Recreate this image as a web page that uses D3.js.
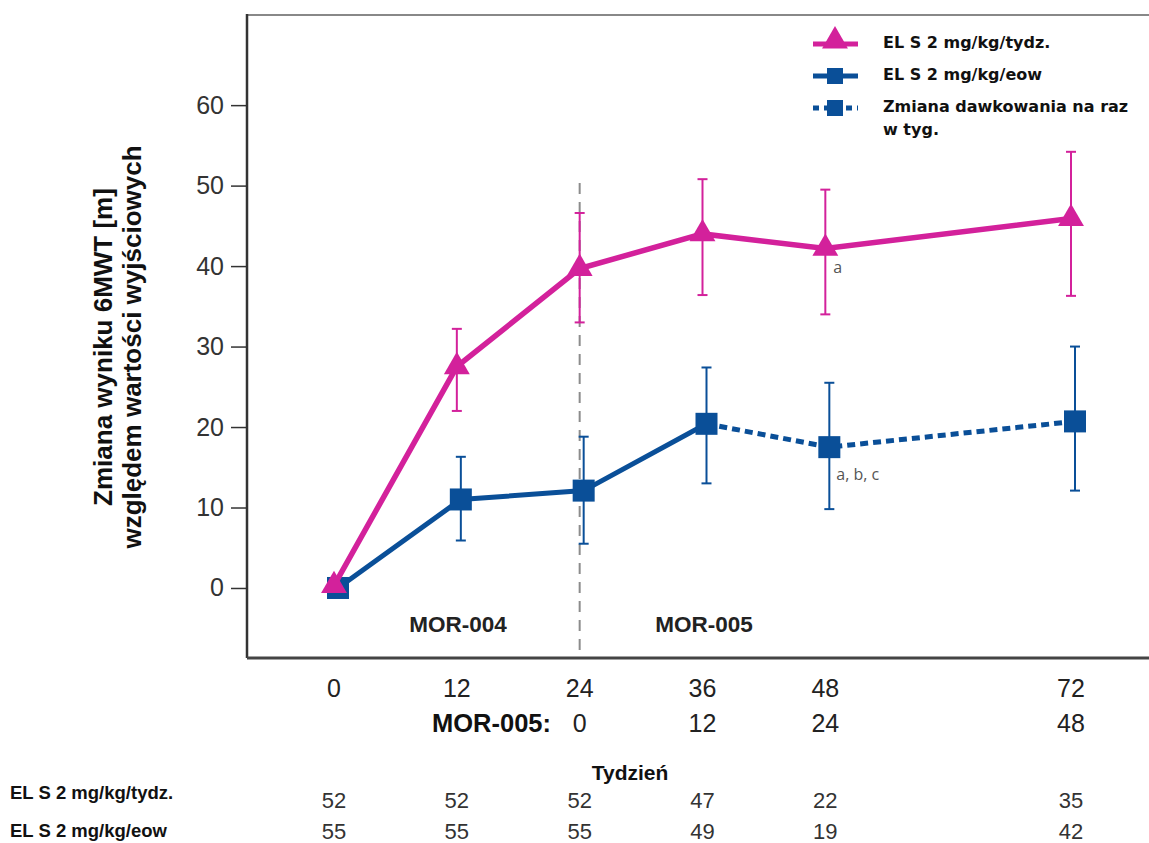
<!DOCTYPE html>
<html>
<head>
<meta charset="utf-8">
<script src="https://cdn.jsdelivr.net/npm/d3@7"></script>
<style>
  body { margin: 0; background: #fff; }
  svg { font-family: "Liberation Sans", Arial, sans-serif; }
</style>
</head>
<body>
<svg width="1149" height="843"></svg>
<script>
// weeks in MOR-004 / MOR-005 timeline
const weeks = [0, 12, 24, 36, 48, 72];
const mor005Weeks = ['', '', '0', '12', '24', '48'];

const weeklyMean = [0.3, 27.5, 39.7, 44.0, 42.2, 45.9];
const weeklyLow = [null, 22.0, 33.0, 36.4, 34.0, 36.3];
const weeklyHigh = [null, 32.2, 46.6, 50.8, 49.5, 54.2];

const eowMean = [0, 11.0, 12.1, 20.4, 17.5, 20.7];
const eowLow = [null, 5.9, 5.5, 13.0, 9.8, 12.1];
const eowHigh = [null, 16.3, 18.8, 27.4, 25.5, 30.0];

const nWeekly = [52, 52, 52, 47, 22, 35];
const nEow = [55, 55, 55, 49, 19, 42];

const yTicks = [0, 10, 20, 30, 40, 50, 60];

const pink = '#d3219b';
const blue = '#0a4f98';

const svg = d3.select('svg');
const plotL = 247, plotR = 1149, plotT = 15, plotB = 658;

const x = d3.scaleLinear().domain([0, 72]).range([334, 1071]);
const y = d3.scaleLinear().domain([-8.7, 71.2]).range([plotB, plotT]);

// frame
svg.append('line').attr('x1', plotL).attr('x2', plotR).attr('y1', plotT).attr('y2', plotT)
    .attr('stroke', '#888').attr('stroke-width', 2);

const yAxis = svg.append('g').attr('transform', `translate(${plotL},0)`)
    .call(d3.axisLeft(y).tickValues(yTicks).tickSize(16).tickPadding(7));
yAxis.select('.domain').remove();
yAxis.selectAll('line').attr('stroke', '#333').attr('stroke-width', 1.5);
yAxis.selectAll('text').attr('font-size', 25).attr('fill', '#333')
    .attr('font-family', '"Liberation Sans", Arial, sans-serif');

svg.append('line').attr('x1', plotL).attr('x2', plotL).attr('y1', plotT - 1).attr('y2', plotB)
    .attr('stroke', '#333').attr('stroke-width', 2.5);
svg.append('line').attr('x1', plotL).attr('x2', plotR).attr('y1', plotB).attr('y2', plotB)
    .attr('stroke', '#444').attr('stroke-width', 3);

// x tick labels
svg.selectAll('.xt').data(weeks).enter().append('text')
    .attr('x', d => x(d)).attr('y', 697).attr('text-anchor', 'middle')
    .attr('font-size', 25).attr('fill', '#222').text(d => d);
svg.selectAll('.xt2').data(weeks).enter().append('text')
    .attr('x', d => x(d)).attr('y', 732).attr('text-anchor', 'middle')
    .attr('font-size', 25).attr('fill', '#222').text((d, i) => mor005Weeks[i]);
svg.append('text').attr('x', 551).attr('y', 732).attr('text-anchor', 'end')
    .attr('font-size', 25.5).attr('font-weight', 'bold').attr('fill', '#111').text('MOR-005:');

// y title
const yt = svg.append('text').attr('transform', 'translate(112,347) rotate(-90)')
    .attr('text-anchor', 'middle').attr('font-size', 26).attr('font-weight', 'bold').attr('fill', '#111');
yt.append('tspan').attr('x', 0).attr('dy', 0).text('Zmiana wyniku 6MWT [m]');
yt.append('tspan').attr('x', 0).attr('dy', 29).text('względem wartości wyjściowych');

// study divider
svg.append('line').attr('x1', x(24)).attr('x2', x(24)).attr('y1', 183).attr('y2', plotB)
    .attr('stroke', '#8c8c8c').attr('stroke-width', 2).attr('stroke-dasharray', '11,8');
svg.append('text').attr('x', 458).attr('y', 632).attr('text-anchor', 'middle')
    .attr('font-size', 22.5).attr('font-weight', 'bold').attr('fill', '#222').text('MOR-004');
svg.append('text').attr('x', 704).attr('y', 632).attr('text-anchor', 'middle')
    .attr('font-size', 22.5).attr('font-weight', 'bold').attr('fill', '#222').text('MOR-005');

// error bars
function errorBars(mean, low, high, color, dx) {
    const g = svg.append('g').attr('stroke', color).attr('stroke-width', 2);
    weeks.forEach((w, i) => {
        if (low[i] == null) return;
        const cx = x(w) + dx;
        g.append('line').attr('x1', cx).attr('x2', cx).attr('y1', y(low[i])).attr('y2', y(high[i]));
        g.append('line').attr('x1', cx - 5).attr('x2', cx + 5).attr('y1', y(low[i])).attr('y2', y(low[i]));
        g.append('line').attr('x1', cx - 5).attr('x2', cx + 5).attr('y1', y(high[i])).attr('y2', y(high[i]));
    });
}
errorBars(weeklyMean, weeklyLow, weeklyHigh, pink, 0);
errorBars(eowMean, eowLow, eowHigh, blue, 4);

const blueDx = 4;
const line = d3.line().x(d => d[0]).y(d => d[1]);
const eowPts = weeks.map((w, i) => [x(w) + blueDx, y(eowMean[i])]);
svg.append('path').attr('d', line(eowPts.slice(0, 4))).attr('fill', 'none')
    .attr('stroke', blue).attr('stroke-width', 5);
svg.append('path').attr('d', line(eowPts.slice(3))).attr('fill', 'none')
    .attr('stroke', blue).attr('stroke-width', 5).attr('stroke-dasharray', '8,5');
svg.selectAll('.sq').data(eowPts).enter().append('rect')
    .attr('x', d => d[0] - 11).attr('y', d => d[1] - 11).attr('width', 22).attr('height', 22)
    .attr('fill', blue);

const wkPts = weeks.map((w, i) => [x(w), y(weeklyMean[i])]);
svg.append('path').attr('d', line(wkPts)).attr('fill', 'none')
    .attr('stroke', pink).attr('stroke-width', 5.5);
const tri = d3.symbol().type(d3.symbolTriangle).size(290);
svg.selectAll('.tri').data(wkPts).enter().append('path')
    .attr('d', tri).attr('transform', d => `translate(${d[0]},${d[1]})`).attr('fill', pink);

// footnote letters
svg.append('text').attr('x', x(48) + 8).attr('y', y(weeklyMean[4]) + 25)
    .attr('font-size', 16).attr('fill', '#555').attr('font-family', '"Open Sans", sans-serif').text('a');
svg.append('text').attr('x', x(48) + 11).attr('y', y(eowMean[4]) + 33)
    .attr('font-size', 16).attr('fill', '#555').attr('font-family', '"Open Sans", sans-serif').text('a, b, c');

// legend
const legend = [
    {label: ['EL S 2 mg/kg/tydz.'], color: pink, shape: 'tri', dash: null, y: 44},
    {label: ['EL S 2 mg/kg/eow'], color: blue, shape: 'sq', dash: null, y: 76},
    {label: ['Zmiana dawkowania na raz', 'w tyg.'], color: blue, shape: 'sq', dash: '6,5', y: 108}
];
legend.forEach(d => {
    const g = svg.append('g');
    g.append('line').attr('x1', 813).attr('x2', 858).attr('y1', d.y).attr('y2', d.y)
        .attr('stroke', d.color).attr('stroke-width', 5).attr('stroke-dasharray', d.dash);
    if (d.shape === 'tri') {
        g.append('path').attr('d', tri).attr('transform', `translate(835,${d.y - 3})`).attr('fill', d.color);
    } else {
        g.append('rect').attr('x', 827).attr('y', d.y - 8).attr('width', 16).attr('height', 16).attr('fill', d.color);
    }
    d.label.forEach((t, j) => {
        g.append('text').attr('x', 883).attr('y', d.y - 2 + j * 23).attr('dy', '0.35em')
            .attr('font-family', '"DejaVu Sans", Verdana, sans-serif')
            .attr('font-size', 16).attr('font-weight', 'bold').attr('fill', '#111').text(t);
    });
});

// patient numbers
svg.append('text').attr('x', 630).attr('y', 780).attr('text-anchor', 'middle')
    .attr('font-size', 21).attr('font-weight', 'bold').attr('fill', '#111').text('Tydzień');
svg.append('text').attr('x', 10).attr('y', 799).attr('font-size', 18.5)
    .attr('font-weight', 'bold').attr('fill', '#111').text('EL S 2 mg/kg/tydz.');
svg.append('text').attr('x', 10).attr('y', 837).attr('font-size', 18.5)
    .attr('font-weight', 'bold').attr('fill', '#111').text('EL S 2 mg/kg/eow');
svg.selectAll('.n1').data(nWeekly).enter().append('text')
    .attr('x', (d, i) => x(weeks[i])).attr('y', 808).attr('text-anchor', 'middle')
    .attr('font-size', 22).attr('fill', '#333').text(d => d);
svg.selectAll('.n2').data(nEow).enter().append('text')
    .attr('x', (d, i) => x(weeks[i])).attr('y', 839).attr('text-anchor', 'middle')
    .attr('font-size', 22).attr('fill', '#333').text(d => d);
</script>
</body>
</html>
